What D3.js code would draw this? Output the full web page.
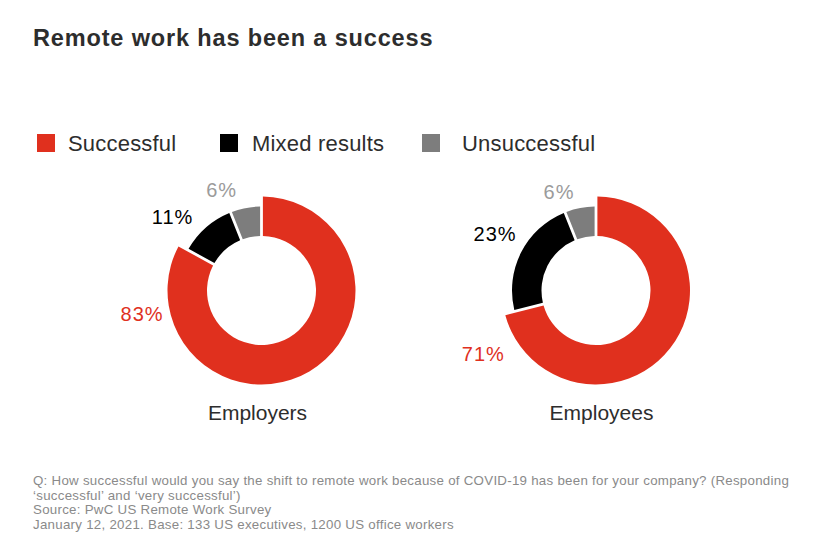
<!DOCTYPE html>
<html>
<head>
<meta charset="utf-8">
<script src="https://cdn.jsdelivr.net/npm/d3@7"></script>
<style>
  body { margin: 0; background: #fff; }
  svg text { font-family: "Liberation Sans", Arial, sans-serif; }
</style>
</head>
<body>
<div id="chart"></div>
<script>
// data
let categories = ["Successful", "Mixed results", "Unsuccessful"];
let groups = ["Employers", "Employees"];
let employers = [83, 11, 6];
let employees = [71, 23, 6];
let colors = ["#e0301e", "#000000", "#7d7d7d"];
let labelColors = ["#e0301e", "#000000", "#9b9b9b"];
let footnotes = [
  "Q: How successful would you say the shift to remote work because of COVID-19 has been for your company? (Responding",
  "\u2018successful\u2019 and \u2018very successful\u2019)",
  "Source: PwC US Remote Work Survey",
  "January 12, 2021. Base: 133 US executives, 1200 US office workers"
];

let width = 824;
let height = 559;
const svg = d3.select("#chart").append("svg")
              .attr("width", width)
              .attr("height", height);

//Title
svg.append("text")
   .attr("x", 33)
   .attr("y", 45.5)
   .attr("font-size", 23.5)
   .attr("font-weight", "bold")
   .attr("letter-spacing", 0.85)
   .attr("fill", "#2d2d2d")
   .text("Remote work has been a success");

//Legend
let legendX = [37, 220, 422];
let legendTextX = [31, 32, 40];
let legend = svg.append("g")
                .selectAll("g")
                .data(categories)
                .join("g")
                .attr("transform", (d, i) => `translate(${legendX[i]},134)`);
legend.append("rect")
      .attr("width", 18)
      .attr("height", 18)
      .attr("fill", (d, i) => colors[i]);
legend.append("text")
      .attr("x", (d, i) => legendTextX[i])
      .attr("y", 17)
      .attr("font-size", 22)
      .attr("letter-spacing", 0.2)
      .attr("fill", "#2d2d2d")
      .text(d => d);

//Donuts - the "Successful" slice is drawn bigger than the rest
let rInner = 54.5;
let pie = d3.pie().sort(null);
let arc = d3.arc()
            .innerRadius(rInner)
            .outerRadius((d, i) => i === 0 ? 94 : 84)
            .padRadius(100)
            .padAngle(0.028);

// layout per donut: centre, and label spots as [angle deg, radius]
let layout = [
  {cx: 261.5, cy: 290.5, labels: [[259, 121.7], [309.7, 115.6], [338.3, 107.8]]},
  {cx: 596, cy: 290.5, labels: [[240.7, 129.2], [299.4, 115.9], [339.5, 105.5]]}
];

[employers, employees].forEach(function(values, k) {
    let L = layout[k];
    let g = svg.append("g").attr("transform", `translate(${L.cx},${L.cy})`);
    let arcs = pie(values);

    g.selectAll("path")
     .data(arcs)
     .join("path")
     .attr("d", (d, i) => arc(d, i))
     .attr("fill", (d, i) => colors[i]);

    g.selectAll("text.val")
     .data(arcs)
     .join("text")
     .attr("class", "val")
     .attr("transform", function(d, i) {
         let a = L.labels[i][0] * Math.PI / 180, r = L.labels[i][1];
         return `translate(${r * Math.sin(a)},${-r * Math.cos(a)})`;
     })
     .attr("text-anchor", "middle")
     .attr("dy", "0.35em")
     .attr("font-size", 20)
     .attr("letter-spacing", 1)
     .attr("fill", (d, i) => labelColors[i])
     .text(d => d.data + "%");

    g.append("text")
     .attr("x", k === 0 ? -4 : 5.5)
     .attr("y", 129.5)
     .attr("text-anchor", "middle")
     .attr("font-size", 21)
     .attr("fill", "#2d2d2d")
     .text(groups[k]);
});

//Footnote
svg.append("g")
   .selectAll("text")
   .data(footnotes)
   .join("text")
   .attr("x", 33)
   .attr("y", (d, i) => 485 + i * 14.6)
   .attr("font-size", 13.3)
   .attr("letter-spacing", 0.27)
   .attr("fill", "#8a8a8a")
   .text(d => d);
</script>
</body>
</html>
